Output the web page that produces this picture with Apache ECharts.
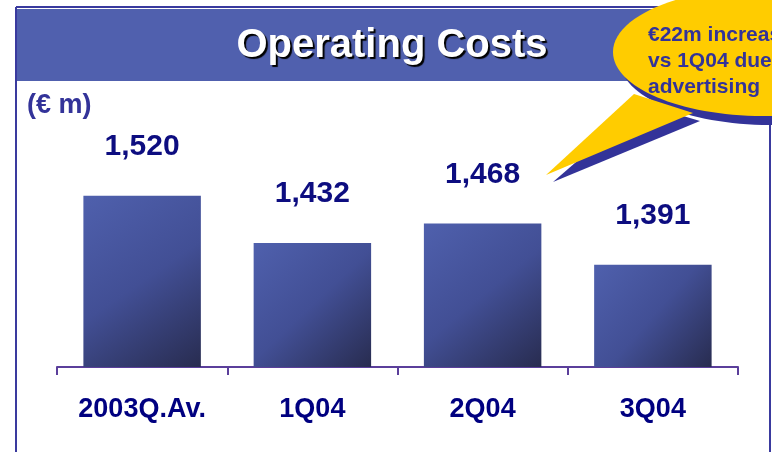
<!DOCTYPE html>
<html>
<head>
<meta charset="utf-8">
<style>
html,body{margin:0;padding:0;background:#ffffff;}
#chart{width:772px;height:452px;}
</style>
<script src="https://cdn.jsdelivr.net/npm/echarts@6/dist/echarts.min.js"></script>
</head>
<body>
<div id="chart"></div>
<script>
const categories = ['2003Q.Av.', '1Q04', '2Q04', '3Q04'];
const values = [1520, 1432, 1468, 1391];
const titleText = 'Operating Costs';
const unitText = '(€ m)';
const bubbleLines = ['€22m increase', 'vs 1Q04 due to', 'advertising'];

const chart = echarts.init(document.getElementById('chart'), null, {renderer: 'canvas'});

const navy = '#0d0d80';
const frameColor = '#3a3a9e';
const bubbleShadow = '#333399';

const option = {
  backgroundColor: '#ffffff',
  animation: false,
  grid: {left: 57, right: 34, top: 153, bottom: 85},
  xAxis: {
    type: 'category',
    data: categories,
    boundaryGap: true,
    axisLine: {show: true, lineStyle: {color: '#5b3f9b', width: 2}},
    axisTick: {show: true, alignWithLabel: false, length: 8, lineStyle: {color: '#5b3f9b', width: 2}},
    axisLabel: {
      margin: 29,
      color: '#000080',
      fontSize: 27,
      fontWeight: 'bold',
      fontFamily: 'Liberation Sans, Arial, sans-serif'
    }
  },
  yAxis: {
    type: 'value',
    min: 1200,
    max: 1600,
    show: false,
    splitLine: {show: false}
  },
  series: [{
    type: 'bar',
    data: values,
    barWidth: '69%',
    itemStyle: {
      color: new echarts.graphic.LinearGradient(0, 0, 1, 1, [
        {offset: 0, color: '#4f60ad'},
        {offset: 0.5, color: '#424f95'},
        {offset: 1, color: '#282c50'}
      ])
    },
    label: {
      show: true,
      position: 'top',
      distance: 34,
      color: navy,
      fontSize: 30,
      fontWeight: 'bold',
      fontFamily: 'Liberation Sans, Arial, sans-serif',
      formatter: p => p.value.toLocaleString('en-US')
    }
  }],
  graphic: [
    // frame lines
    {type: 'line', z: 1, shape: {x1: 16, y1: 7, x2: 772, y2: 7}, style: {stroke: frameColor, lineWidth: 2}},
    {type: 'line', z: 1, shape: {x1: 16, y1: 7, x2: 16, y2: 452}, style: {stroke: frameColor, lineWidth: 2}},
    {type: 'line', z: 1, shape: {x1: 770, y1: 7, x2: 770, y2: 452}, style: {stroke: frameColor, lineWidth: 2}},
    // header band
    {type: 'rect', z: 2, shape: {x: 17, y: 9, width: 755, height: 72}, style: {fill: '#5060ae'}},
    {type: 'text', z: 3, x: 392, y: 46, style: {
      text: titleText, align: 'center', verticalAlign: 'middle',
      fill: '#ffffff', font: 'bold 40px "Liberation Sans", Arial, sans-serif',
      shadowColor: '#000000', shadowOffsetX: 2, shadowOffsetY: 2, shadowBlur: 1,
      textShadowColor: '#000000', textShadowOffsetX: 2, textShadowOffsetY: 2, textShadowBlur: 1
    }},
    // unit
    {type: 'text', z: 3, x: 27, y: 106, style: {
      text: unitText, align: 'left', verticalAlign: 'middle',
      fill: '#333399', font: 'bold 27px "Liberation Sans", Arial, sans-serif'
    }},
    // bubble shadow
    {type: 'ellipse', z: 10, shape: {cx: 770, cy: 61, rx: 150, ry: 64}, style: {fill: bubbleShadow}},
    {type: 'polygon', z: 10, shape: {points: [[643, 104], [553, 182], [700, 121]]}, style: {fill: bubbleShadow}},
    // bubble
    {type: 'ellipse', z: 11, shape: {cx: 763, cy: 52, rx: 150, ry: 64}, style: {fill: '#ffcc00'}},
    {type: 'polygon', z: 11, shape: {points: [[634, 94], [546, 175], [693, 113]]}, style: {fill: '#ffcc00'}},
    {type: 'text', z: 12, x: 648, y: 61, style: {
      text: bubbleLines.join('\n'), align: 'left', verticalAlign: 'middle',
      fill: '#333399', font: 'bold 21px "Liberation Sans", Arial, sans-serif', lineHeight: 26
    }}
  ]
};
chart.setOption(option);
</script>
</body>
</html>
